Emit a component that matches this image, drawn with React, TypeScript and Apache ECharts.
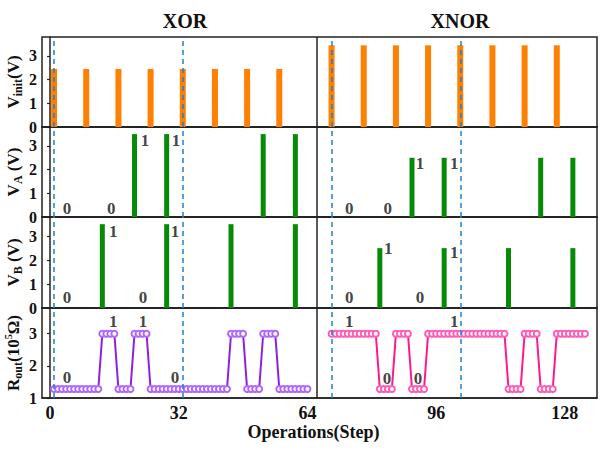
import React, { useEffect, useRef } from 'react';
import * as echarts from 'echarts';

const serif = "'Liberation Serif', 'Times New Roman', serif";

// ---- data ----
const xTickValues = [0, 32, 64, 96, 128];

const vinitXorSteps = [1, 9, 17, 25, 33, 41, 49, 57];
const vinitXorValues = [2.45, 2.45, 2.45, 2.45, 2.45, 2.45, 2.45, 2.45];
const vinitXnorSteps = [70, 78, 86, 94, 102, 110, 118, 126];
const vinitXnorValues = [3.45, 3.45, 3.45, 3.45, 3.45, 3.45, 3.45, 3.45];

const vaXorSteps = [21, 29, 53, 61];
const vaXorValues = [3.5, 3.5, 3.5, 3.5];
const vaXnorSteps = [90, 98, 122, 130];
const vaXnorValues = [2.5, 2.5, 2.5, 2.5];

const vbXorSteps = [13, 29, 45, 61];
const vbXorValues = [3.5, 3.5, 3.5, 3.5];
const vbXnorSteps = [82, 98, 114, 130];
const vbXnorValues = [2.5, 2.5, 2.5, 2.5];

const routXorStart = 1;
const routXorValues = [
  1.28, 1.28, 1.28, 1.28, 1.28, 1.28, 1.28, 1.28, 1.28, 1.28, 1.28, 1.28,
  3.0, 3.0, 3.0, 3.0,
  1.28, 1.28, 1.28, 1.28,
  3.0, 3.0, 3.0, 3.0,
  1.28, 1.28, 1.28, 1.28, 1.28, 1.28, 1.28, 1.28, 1.28, 1.28,
  1.28, 1.28, 1.28, 1.28, 1.28, 1.28, 1.28, 1.28, 1.28, 1.28,
  3.0, 3.0, 3.0, 3.0,
  1.28, 1.28, 1.28, 1.28,
  3.0, 3.0, 3.0, 3.0,
  1.28, 1.28, 1.28, 1.28, 1.28, 1.28, 1.28, 1.28,
];
const routXnorStart = 70;
const routXnorValues = [
  3.0, 3.0, 3.0, 3.0, 3.0, 3.0, 3.0, 3.0, 3.0, 3.0, 3.0, 3.0,
  1.28, 1.28, 1.28, 1.28,
  3.0, 3.0, 3.0, 3.0,
  1.28, 1.28, 1.28, 1.28,
  3.0, 3.0, 3.0, 3.0, 3.0, 3.0, 3.0, 3.0, 3.0, 3.0,
  3.0, 3.0, 3.0, 3.0, 3.0, 3.0, 3.0, 3.0, 3.0, 3.0,
  1.28, 1.28, 1.28, 1.28,
  3.0, 3.0, 3.0, 3.0,
  1.28, 1.28, 1.28, 1.28,
  3.0, 3.0, 3.0, 3.0, 3.0, 3.0, 3.0, 3.0,
];

const boundarySteps = [1, 33, 70, 102];
const dividerStep = 66.4;

// bit annotations: [step, value, text]
const bitLabelsA: [number, number, string][] = [
  [4.2, 0.38, '0'], [15.2, 0.38, '0'], [23.6, 3.25, '1'], [31.3, 3.25, '1'],
  [74.4, 0.38, '0'], [84, 0.38, '0'], [92, 2.28, '1'], [100.5, 2.28, '1'],
];
const bitLabelsB: [number, number, string][] = [
  [4.2, 0.42, '0'], [15.7, 3.18, '1'], [23.1, 0.42, '0'], [31.1, 3.18, '1'],
  [74.4, 0.42, '0'], [84.1, 2.5, '1'], [92, 0.42, '0'], [100.5, 2.3, '1'],
];
const bitLabelsR: [number, number, string][] = [
  [4.2, 1.65, '0'], [15.7, 3.37, '1'], [23.1, 3.37, '1'], [31.1, 1.65, '0'],
  [74.4, 3.37, '1'], [83.8, 1.62, '0'], [91.5, 1.62, '0'], [100.5, 3.37, '1'],
];

const yNames = [
  '{b|V}{s|init}{b|(V)}',
  '{b|V}{s|A}{b| (V)}',
  '{b|V}{s|B}{b| (V)}',
  '{b|R}{s|out}{b|(10}{p|5}{b|Ω)}',
];

const pairs = (xs: number[], ys: number[]) => xs.map((x, i) => [x, ys[i]]);
const seq = (start: number, ys: number[]) => ys.map((y, i) => [start + i, y]);

export default function App() {
  const ref = useRef<HTMLDivElement>(null);
  useEffect(() => {
    if (!ref.current) return;
    const chart = echarts.init(ref.current, undefined, { renderer: 'svg' });

    const tops = [37, 127, 217, 308];
    const heights = [90, 90, 91, 90];
    const grids = tops.map((t, i) => ({
      left: 42,
      right: 3,
      top: t,
      height: heights[i],
      show: true,
      borderColor: '#222',
      borderWidth: 1.5,
      backgroundColor: 'transparent',
      containLabel: false,
      outerBoundsMode: 'none',
    }));

    const xAxes = tops.map((_, i) => ({
      type: 'value',
      gridIndex: i,
      min: -2,
      max: 136,
      axisLine: { show: true, lineStyle: { color: '#222', width: 1.5 } },
      axisTick: { show: false },
      splitLine: { show: false },
      axisLabel: i === 3
        ? {
            show: true,
            customValues: xTickValues,
            fontFamily: serif,
            fontWeight: 'bold',
            fontSize: 18,
            color: '#111',
            margin: 6,
          }
        : { show: false },
      name: i === 3 ? 'Operations(Step)' : '',
      nameLocation: 'middle',
      nameGap: 25,
      nameTextStyle: {
        fontFamily: serif,
        fontWeight: 'bold',
        fontSize: 18,
        color: '#111',
        padding: [0, 12, 0, 0],
      },
    }));

    const richName = {
      b: { fontFamily: serif, fontWeight: 'bold', fontSize: 17, color: '#111', lineHeight: 21 },
      s: { fontFamily: serif, fontWeight: 'bold', fontSize: 12, color: '#111', lineHeight: 11, verticalAlign: 'bottom' },
      p: { fontFamily: serif, fontWeight: 'bold', fontSize: 10, color: '#111', lineHeight: 14, verticalAlign: 'top' },
    };

    const yAxes = tops.map((_, i) => ({
      type: 'value',
      gridIndex: i,
      min: i === 3 ? 1 : 0,
      max: 3.8,
      interval: 1,
      axisLine: { show: true, lineStyle: { color: '#222', width: 1.5 } },
      axisTick: { show: true, length: 3, lineStyle: { color: '#222', width: 1.2 } },
      splitLine: { show: false },
      axisLabel: {
        fontFamily: serif,
        fontWeight: 'bold',
        fontSize: 16,
        color: '#111',
        margin: 5,
        showMaxLabel: false,
      },
      name: yNames[i],
      nameLocation: 'middle',
      nameRotate: 90,
      nameGap: 18,
      nameMoveOverlap: false,
      nameTextStyle: { rich: richName },
    }));

    const markLines = {
      silent: true,
      symbol: 'none',
      label: { show: false },
      data: [
        ...boundarySteps.map((s) => ({
          xAxis: s,
          lineStyle: { color: '#1f7fd4', type: [5, 4], width: 1.5 },
        })),
        { xAxis: dividerStep, lineStyle: { color: '#222', type: 'solid', width: 1.5 } },
      ],
    };

    const labelSeries = (idx: number, items: [number, number, string][]) => ({
      type: 'scatter',
      xAxisIndex: idx,
      yAxisIndex: idx,
      symbolSize: 1,
      itemStyle: { color: 'transparent' },
      z: 6,
      silent: true,
      data: items.map(([x, y, t]) => ({ name: t, value: [x, y] })),
      label: {
        show: true,
        position: 'inside',
        formatter: '{b}',
        fontFamily: serif,
        fontWeight: 'bold',
        fontSize: 17,
        color: '#111',
      },
    });

    const option: any = {
      animation: false,
      backgroundColor: '#fff',
      grid: grids,
      xAxis: xAxes,
      yAxis: yAxes,
      graphic: [
        {
          type: 'text',
          x: 185,
          y: 21,
          style: { text: 'XOR', font: `bold 20px ${serif}`, fill: '#111', textAlign: 'center', textVerticalAlign: 'middle' },
        },
        {
          type: 'text',
          x: 460,
          y: 21,
          style: { text: 'XNOR', font: `bold 20px ${serif}`, fill: '#111', textAlign: 'center', textVerticalAlign: 'middle' },
        },
      ],
      series: [
        {
          type: 'bar',
          xAxisIndex: 0,
          yAxisIndex: 0,
          barWidth: 6,
          itemStyle: { color: '#ff8000' },
          data: [...pairs(vinitXorSteps, vinitXorValues), ...pairs(vinitXnorSteps, vinitXnorValues)],
          markLine: markLines,
        },
        {
          type: 'bar',
          xAxisIndex: 1,
          yAxisIndex: 1,
          barWidth: 5,
          itemStyle: { color: '#078a07' },
          data: [...pairs(vaXorSteps, vaXorValues), ...pairs(vaXnorSteps, vaXnorValues)],
          markLine: markLines,
        },
        {
          type: 'bar',
          xAxisIndex: 2,
          yAxisIndex: 2,
          barWidth: 5,
          itemStyle: { color: '#078a07' },
          data: [...pairs(vbXorSteps, vbXorValues), ...pairs(vbXnorSteps, vbXnorValues)],
          markLine: markLines,
        },
        {
          type: 'line',
          xAxisIndex: 3,
          yAxisIndex: 3,
          symbol: 'emptyCircle',
          symbolSize: 6,
          lineStyle: { color: '#8a22e6', width: 2 },
          itemStyle: { color: '#b066ff', borderWidth: 1 },
          data: seq(routXorStart, routXorValues),
          markLine: markLines,
        },
        {
          type: 'line',
          xAxisIndex: 3,
          yAxisIndex: 3,
          symbol: 'emptyCircle',
          symbolSize: 6,
          lineStyle: { color: '#ff1a8c', width: 2 },
          itemStyle: { color: '#ff5cb8', borderWidth: 1 },
          data: seq(routXnorStart, routXnorValues),
        },
        labelSeries(1, bitLabelsA),
        labelSeries(2, bitLabelsB),
        labelSeries(3, bitLabelsR),
      ],
    };

    chart.setOption(option);
    return () => chart.dispose();
  }, []);

  return (
    <div
      ref={ref}
      style={{ position: 'fixed', left: 0, top: 0, width: 600, height: 453, background: '#fff' }}
    />
  );
}
